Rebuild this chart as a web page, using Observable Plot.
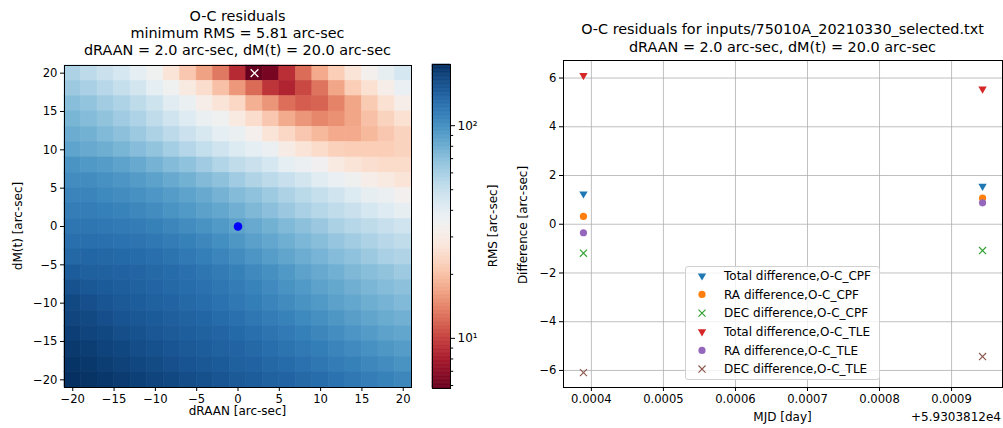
<!DOCTYPE html>
<html><head><meta charset="utf-8">
<script src="https://cdn.jsdelivr.net/npm/d3@7"></script>
<script src="https://cdn.jsdelivr.net/npm/@observablehq/plot@0.6"></script>
<style>
body{margin:0;background:#fff;font-family:"DejaVu Sans",sans-serif;}
#root{position:relative;width:1003px;height:428px;overflow:hidden;background:#fff;}
.lbl{position:absolute;white-space:nowrap;color:#000;font-family:"DejaVu Sans",sans-serif;}
.abs{position:absolute;top:0;}
</style></head><body><div id="root"></div>
<script>
// ---------------- data: left panel (RMS grid) ----------------
const dRAAN = [-20,-18,-16,-14,-12,-10,-8,-6,-4,-2,0,2,4,6,8,10,12,14,16,18,20];
const dMt = [20,18,16,14,12,10,8,6,4,2,0,-2,-4,-6,-8,-10,-12,-14,-16,-18,-20];
const rms = [
  [58,53,48.7,45,39,35,27,21,16.6,13.3,8.8,5.81,6.3,9.1,12.5,17.4,22,27,33,38.5,45],
  [63.5,59.4,54.4,50.4,45.7,39.2,34.8,29,25,20,15.7,12.4,9.4,8.5,10.4,13,17,22,26,31,37.7],
  [70.2,66.5,61.6,57.7,52.6,47.7,40.9,37,31,27,24,18,15.5,12.6,11.6,12,14,17,21.5,26,31],
  [75.3,71.2,67,62.2,57.7,52,46.7,41.8,37,34.8,29,25,21,17.5,15.5,14.3,15,17,20,23,26],
  [80.7,77.5,72.7,69,63.5,58,53.3,48.2,44.1,39.2,37,32.5,27,24,21,19,17.4,17.4,19,21,23],
  [85.7,82.4,79.6,75.3,70.6,66.5,60.8,55.7,51,46.7,42.6,39.2,36.3,30,27,24.5,22.5,22,22,22,23],
  [96.2,92.9,90.3,86,82.4,77,71.7,67.8,62.2,56.3,52,48.7,44.9,39.2,36.3,34,29,27,25.5,24.5,24.5],
  [101.8,101.8,98.5,95.5,91,87,82.4,77.5,72.2,68.3,62.2,57,53.3,49.2,45.7,40.9,37.7,35.3,31,29,27],
  [108,108,104.6,101.8,98.5,94.8,90.3,86,81.8,77,71.7,67.8,62.8,58,53.8,49.8,46.7,42.6,38.5,36.3,33.6],
  [114,114,111.5,109,105.7,101.8,96.2,92.3,87.6,83.6,78.5,73.4,69.3,64,59.4,55.1,52,48.7,44.9,41.8,38.5],
  [120.5,120.5,118.8,117,115,110.7,106.5,101.8,96.9,92.3,87,82.4,77.5,72.7,69,64,58.6,55.1,52.6,49.2,46.7],
  [126.4,126.4,125.6,123.3,121.8,118.8,115,110.7,105.7,100,94.3,88.2,83.6,79,74,70.2,65.6,61.6,58,54.4,52],
  [133.7,134.8,133.7,131.5,129.4,126.4,122.5,118,112.3,107.2,101.8,95.5,89.7,84.8,80.2,75.8,71.2,67.8,63.5,59.4,57],
  [145,141,139.5,137.6,135.7,132.5,129.4,125.6,120.5,116,110.7,104,99.3,92.9,87,82.4,78,73.4,70.2,67,62.8],
  [155.6,149.5,146,143,139.5,135.7,132.5,128.5,124.4,119.6,115,109,103.2,96.9,92.3,87,83,78.5,74.5,71.2,69],
  [164.5,158,152,147.5,144,140,136.7,132.5,128.5,123.3,118.8,113.2,108,102.5,96.9,92.3,87.6,83.6,79.6,76.4,72.7],
  [169.5,164.5,159,153,149.5,146,141.8,138.6,134.8,129.4,125.6,119.6,115,110,104.6,99.3,94.3,89,84.8,81,78],
  [176,170.5,165.5,159.5,155.6,150.4,146.6,143,139.5,135.7,131.5,126.4,121.8,117,111.5,106.5,101,95.5,91,87,84.2],
  [183,177,171.6,166.5,160.8,156.6,151.8,147.5,144,140,136.7,132.5,127.4,122.5,118,113.2,108,103.2,98.5,94.3,90.3],
  [189.6,183.8,178,173,167,163,158,153,149.5,146,141,137.6,133.7,129.4,124.4,119.6,115,110.7,105.7,101.8,96.9],
  [194,190,185,181,175,170.5,165.5,160.8,156.6,152,147.5,144,140,136.7,132.5,128.5,123.3,118.8,114,110,105.7]
];
const rmsMin = 5.81, rmsMax = 194;
const bestFit = {r: 2, m: 20};
const startPoint = {r: 0, m: 0};
const gridTicks = [-20,-15,-10,-5,0,5,10,15,20];
const cbarMajor = [10, 100];
const cbarMinor = [6,7,8,9,20,30,40,50,60,70,80,90];

// ---------------- data: right panel (O-C residuals) ----------------
const mjdOffset = 59303.812;
const mjdFrac = [0.000389, 0.000943];
const seriesNames = ["Total difference,O-C_CPF","RA difference,O-C_CPF","DEC difference,O-C_CPF",
                     "Total difference,O-C_TLE","RA difference,O-C_TLE","DEC difference,O-C_TLE"];
const seriesColors = ["#1f77b4","#ff7f0e","#2ca02c","#d62728","#9467bd","#8c564b"];
const seriesMarkers = ["tri","circle","x","tri","circle","x"];
const totalCPF = [1.25, 1.56];
const raCPF = [0.32, 1.07];
const decCPF = [-1.19, -1.08];
const totalTLE = [6.11, 5.55];
const raTLE = [-0.35, 0.88];
const decTLE = [-6.09, -5.43];
const seriesValues = [totalCPF, raCPF, decCPF, totalTLE, raTLE, decTLE];
const xTicksR = [0.0004,0.0005,0.0006,0.0007,0.0008,0.0009];
const yTicksR = [-6,-4,-2,0,2,4,6];

// ---------------- layout helpers ----------------
const root = document.getElementById("root");
function label(text, x, y, opts = {}) {
  const d = document.createElement("div");
  d.className = "lbl";
  d.textContent = text;
  d.style.left = x + "px"; d.style.top = y + "px";
  d.style.fontSize = (opts.size || 12) + "px";
  const ax = opts.anchor === "end" ? "-100%" : (opts.anchor === "start" ? "0" : "-50%");
  d.style.transform = `translate(${ax},-50%)` + (opts.rotate ? " rotate(-90deg)" : "");
  root.appendChild(d);
  return d;
}
function place(node, left) { node.classList.add("abs"); node.style.left = left + "px"; root.appendChild(node); }
const baseStyle = {fontFamily: "DejaVu Sans", fontSize: "11.6px", color: "#000", background: "transparent", overflow: "visible"};
const colorScale = {type: "log", scheme: "RdBu", domain: [rmsMin, rmsMax]};
const TITLE = 14.4;

// ---------------- left: heatmap ----------------
const cells = [];
dMt.forEach((m, i) => dRAAN.forEach((r, j) => cells.push({r, m, v: rms[i][j]})));
const halfStep = (dRAAN[1] - dRAAN[0]) / 2;
const heat = Plot.plot({
  width: 420, height: 428, marginLeft: 64, marginRight: 9, marginTop: 65, marginBottom: 41,
  style: baseStyle,
  x: {domain: [dRAAN[0] - halfStep, dRAAN[dRAAN.length-1] + halfStep]},
  y: {domain: [dMt[dMt.length-1] - halfStep, dMt[0] + halfStep]},
  color: colorScale,
  marks: [
    Plot.rect(cells, {x1: d => d.r - halfStep, x2: d => d.r + halfStep, y1: d => d.m - halfStep, y2: d => d.m + halfStep,
                      fill: "v", stroke: "v", strokeWidth: 0.6}),
    Plot.dot([startPoint], {x: "r", y: "m", fill: "#0000ff", r: 4.3}),
    Plot.dot([bestFit], {x: "r", y: "m", symbol: "times", stroke: "#fff", r: 3.6, strokeWidth: 1.3}),
    Plot.frame({stroke: "#000", strokeWidth: 1}),
    Plot.axisX({ticks: gridTicks, tickSize: 4, tickPadding: 3, label: null}),
    Plot.axisY({ticks: gridTicks, tickSize: 4, tickPadding: 3, label: null})
  ]
});
place(heat, 0);

// ---------------- left: colorbar ----------------
const nStops = 240;
const stops = d3.range(nStops + 1).map(i => rmsMin * Math.pow(rmsMax / rmsMin, i / nStops));
const bands = d3.range(nStops).map(i => ({y1: stops[i], y2: stops[i+1], v: Math.sqrt(stops[i]*stops[i+1])}));
const sup = {1: "\u00b9", 2: "\u00b2", 3: "\u00b3"};
const cbar = Plot.plot({
  width: 100, height: 428, marginLeft: 12, marginRight: 70, marginTop: 64, marginBottom: 40,
  style: {...baseStyle, fontSize: "12px"},
  y: {type: "log", domain: [rmsMin, rmsMax]},
  color: colorScale,
  marks: [
    Plot.rect(bands, {y1: "y1", y2: "y2", fill: "v", stroke: "v", strokeWidth: 0.6}),
    Plot.frame({stroke: "#000", strokeWidth: 1}),
    Plot.axisY({anchor: "right", ticks: cbarMajor, tickSize: 4, tickPadding: 3, label: null,
                tickFormat: d => "10" + sup[Math.round(Math.log10(d))]}),
    Plot.axisY({anchor: "right", ticks: cbarMinor, tickSize: 2.2, tickFormat: () => "", label: null})
  ]
});
place(cbar, 420);

// left texts
label("O-C residuals", 237.5, 16, {size: TITLE});
label("minimum RMS = 5.81 arc-sec", 237.5, 33, {size: TITLE});
label("dRAAN = 2.0 arc-sec, dM(t) = 20.0 arc-sec", 237.5, 50, {size: TITLE});
label("dRAAN [arc-sec]", 237.5, 411);
label("dM(t) [arc-sec]", 18, 226, {rotate: true});
label("RMS [arc-sec]", 493, 226, {rotate: true});

// ---------------- right: residuals ----------------
const pts = [];
seriesNames.forEach((name, k) => seriesValues[k].forEach((v, i) => pts.push({x: mjdFrac[i], y: v, k})));
const pad = (lo, hi) => [lo - (hi - lo) * 0.05, hi + (hi - lo) * 0.05];
const xDom = pad(d3.min(mjdFrac), d3.max(mjdFrac));
const yDom = pad(d3.min(pts, d => d.y), d3.max(pts, d => d.y));
const markFor = (k) => {
  const data = pts.filter(d => d.k === k);
  const c = seriesColors[k];
  if (seriesMarkers[k] === "tri") return Plot.dot(data, {x: "x", y: "y", symbol: "triangle", rotate: 180, fill: c, r: 3.1});
  if (seriesMarkers[k] === "circle") return Plot.dot(data, {x: "x", y: "y", symbol: "circle", fill: c, r: 3.6});
  return Plot.dot(data, {x: "x", y: "y", symbol: "times", stroke: c, r: 3.3, strokeWidth: 1.15});
};
const res = Plot.plot({
  width: 503, height: 428, marginLeft: 63, marginRight: 1, marginTop: 60, marginBottom: 41,
  style: baseStyle,
  x: {domain: xDom},
  y: {domain: yDom},
  marks: [
    Plot.gridX({ticks: xTicksR, stroke: "#b0b0b0", strokeOpacity: 1, strokeWidth: 0.8}),
    Plot.gridY({ticks: yTicksR, stroke: "#b0b0b0", strokeOpacity: 1, strokeWidth: 0.8}),
    ...seriesNames.map((_, k) => markFor(k)),
    Plot.frame({stroke: "#000", strokeWidth: 1}),
    Plot.axisX({ticks: xTicksR, tickSize: 4, tickPadding: 3, tickFormat: d3.format(".4f"), label: null}),
    Plot.axisY({ticks: yTicksR, tickSize: 4, tickPadding: 3, label: null})
  ]
});
place(res, 500);

label("O-C residuals for inputs/75010A_20210330_selected.txt", 782.5, 29, {size: TITLE});
label("dRAAN = 2.0 arc-sec, dM(t) = 20.0 arc-sec", 782.5, 47, {size: TITLE});
label("MJD [day]", 782.5, 417);
label("+" + d3.format(".7e")(mjdOffset).replace("e+", "e"), 1001, 417, {anchor: "end"});
label("Difference [arc-sec]", 523, 225, {rotate: true});

// legend
const leg = document.createElement("div");
leg.style.cssText = "position:absolute;left:685px;top:265.5px;width:195px;height:114px;border:1px solid #d0d0d0;border-radius:3px;background:rgba(255,255,255,0.8);box-sizing:border-box;";
root.appendChild(leg);
const ls = d3.select(leg).append("svg").attr("width", 195).attr("height", 114)
  .style("position","absolute").style("left","-1px").style("top","-1px").style("overflow","visible");
seriesNames.forEach((name, k) => {
  const cy = 9.8 + k * 18.65;
  const g = ls.append("g").attr("transform", `translate(17,${cy})`);
  const c = seriesColors[k];
  if (seriesMarkers[k] === "tri") g.append("path").attr("d", d3.symbol(d3.symbolTriangle, 3.1*3.1*Math.PI)()).attr("transform","rotate(180)").attr("fill", c);
  else if (seriesMarkers[k] === "circle") g.append("circle").attr("r", 3.6).attr("fill", c);
  else g.append("path").attr("d", d3.symbol(d3.symbolTimes, 3.3*3.3*Math.PI)()).attr("stroke", c).attr("stroke-width", 1.15).attr("fill","none");
  ls.append("text").attr("x", 39).attr("y", cy).attr("dy", "0.35em").attr("font-size", "12px")
    .attr("font-family", "DejaVu Sans").text(name);
});
</script></body></html>
